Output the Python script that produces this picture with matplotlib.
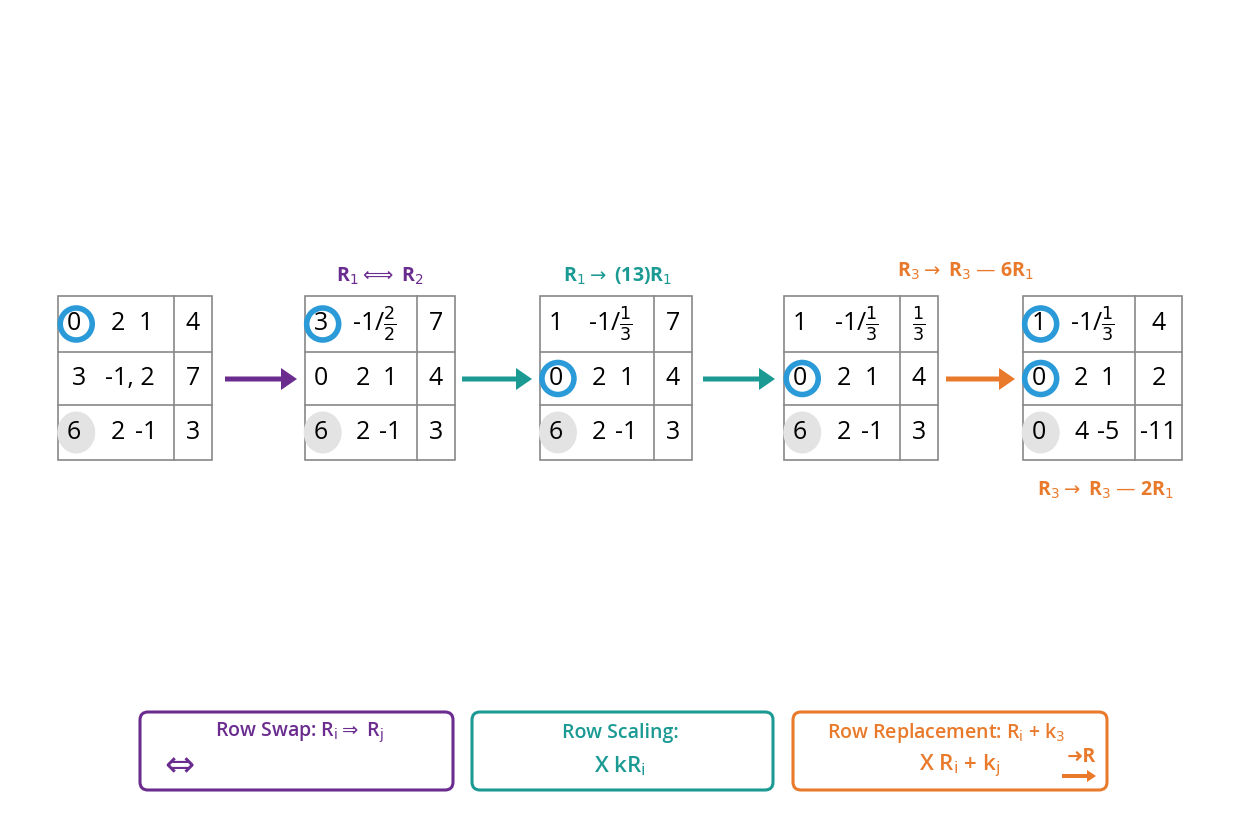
import matplotlib.pyplot as plt
from matplotlib.patches import Rectangle, Circle, Ellipse, FancyBboxPatch, FancyArrow

plt.rcParams['font.family'] = ['Open Sans', 'DejaVu Sans']
plt.rcParams['mathtext.fontset'] = 'dejavusans'

PURPLE = '#6b2c8f'
TEAL = '#1a9a93'
ORANGE = '#e97a2b'
BLUE = '#2a9ad8'

# matrices: rows of (left entries, right entry)
m1 = [(["0", "2", "1"], "4"), (["3", "-1, 2", ""], "7"), (["6", "2", "-1"], "3")]
m2 = [(["3", r"-1/$\frac{2}{2}$", ""], "7"), (["0", "2", "1"], "4"), (["6", "2", "-1"], "3")]
m3 = [(["1", r"-1/$\frac{1}{3}$", ""], "7"), (["0", "2", "1"], "4"), (["6", "2", "-1"], "3")]
m4 = [(["1", r"-1/$\frac{1}{3}$", ""], r"$\frac{1}{3}$"), (["0", "2", "1"], "4"), (["6", "2", "-1"], "3")]
m5 = [(["1", r"-1/$\frac{1}{3}$", ""], "4"), (["0", "2", "1"], "2"), (["0", "4", "-5"], "-11")]
matrices = [m1, m2, m3, m4, m5]
# pivot rings (row indices) per matrix
rings = [[0], [0], [1], [1], [0, 1]]

# layout (pixels)
boxes = [(58, 174, 212), (305, 417, 455), (540, 654, 692), (784, 900, 938), (1023, 1135, 1182)]
row_lines = [296, 352, 405, 460]
arrows = [(225, 297, PURPLE), (462, 532, TEAL), (703, 775, TEAL), (946, 1015, ORANGE)]

fig = plt.figure(figsize=(12.48, 8.32), dpi=100)
ax = fig.add_axes([0, 0, 1, 1])
ax.set_xlim(0, 1248)
ax.set_ylim(832, 0)
ax.axis('off')

for mat, ring, (x0, xd, x1) in zip(matrices, rings, boxes):
    ax.add_patch(Rectangle((x0, row_lines[0]), x1 - x0, row_lines[-1] - row_lines[0],
                           fill=False, ec='#888888', lw=1.2))
    for y in row_lines[1:-1]:
        ax.plot([x0, x1], [y, y], color='#888888', lw=1.2)
    ax.plot([xd, xd], [row_lines[0], row_lines[-1]], color='#888888', lw=1.2)
    w = xd - x0
    for r, (left, right) in enumerate(mat):
        yc = (row_lines[r] + row_lines[r + 1]) / 2
        cx0 = x0 + 0.14 * w
        if r == 2:
            ax.add_patch(Ellipse((cx0 + 2, yc), 38, 42, fc='#e3e3e3', ec='none', zorder=1))
        if r in ring:
            ax.add_patch(Circle((cx0 + 2, yc), 16, fill=False, ec=BLUE, lw=4, zorder=3))
        if left[2] == "" and left[1] != "":
            xs = [cx0 + (5 if left[1] == "-1, 2" else 0), x0 + 0.62 * w]
        else:
            xs = [cx0, x0 + 0.52 * w, x0 + 0.76 * w]
        for s, x in zip(left, xs):
            ax.text(x, yc, s, fontsize=18, ha='center', va='center', zorder=4)
        ax.text((xd + x1) / 2, yc, right, fontsize=18, ha='center', va='center', zorder=4)

for xa, xb, c in arrows:
    ax.add_patch(FancyArrow(xa, 379, xb - xa, 0, width=5, head_width=22, head_length=16,
                            length_includes_head=True, color=c, ec='none'))

lab = dict(fontsize=14, fontweight='bold', ha='center', va='center')
ax.text(380, 276, r"R$_1 \Leftarrow\!\!\!\Rightarrow$ R$_2$", color=PURPLE, **lab)
ax.text(618, 276, r"R$_1 \rightarrow$ (13)R$_1$", color=TEAL, **lab)
ax.text(965, 271, r"R$_3 \rightarrow$ R$_3$ — 6R$_1$", color=ORANGE, **lab)
ax.text(1105, 490, r"R$_3 \rightarrow$ R$_3$ — 2R$_1$", color=ORANGE, **lab)

# legend boxes
legend = [(140, 453, PURPLE), (472, 773, TEAL), (793, 1107, ORANGE)]
for xa, xb, c in legend:
    ax.add_patch(FancyBboxPatch((xa, 712), xb - xa, 78, boxstyle='round,pad=0,rounding_size=8',
                                fill=False, ec=c, lw=2.2))
leg = dict(fontsize=14, fontweight='semibold', ha='center', va='center')
ax.text(300, 733, r"Row Swap: R$_\mathrm{i} \Rightarrow$ R$_\mathrm{j}$", color=PURPLE, **leg)
ax.text(176, 765, r"$\Leftrightarrow$", color=PURPLE, fontsize=26, ha='center', va='center')
ax.text(620, 733, "Row Scaling:", color=TEAL, **leg)
ax.text(620, 766, r"X kR$_\mathrm{i}$", color=TEAL, fontsize=16, fontweight='semibold', ha='center', va='center')
ax.text(946, 733, r"Row Replacement: R$_\mathrm{i}$ + k$_3$", color=ORANGE, **leg)
ax.text(960, 766, r"X R$_\mathrm{i}$ + k$_\mathrm{j}$", color=ORANGE, fontsize=16, fontweight='semibold', ha='center', va='center')
ax.text(1082, 757, "➜R", color=ORANGE, fontsize=14, fontweight='bold', ha='center', va='center')
ax.add_patch(FancyArrow(1062, 776, 34, 0, width=4, head_width=12, head_length=9,
                        length_includes_head=True, color=ORANGE, ec='none'))

fig.savefig('out.png', dpi=100, facecolor='white')
